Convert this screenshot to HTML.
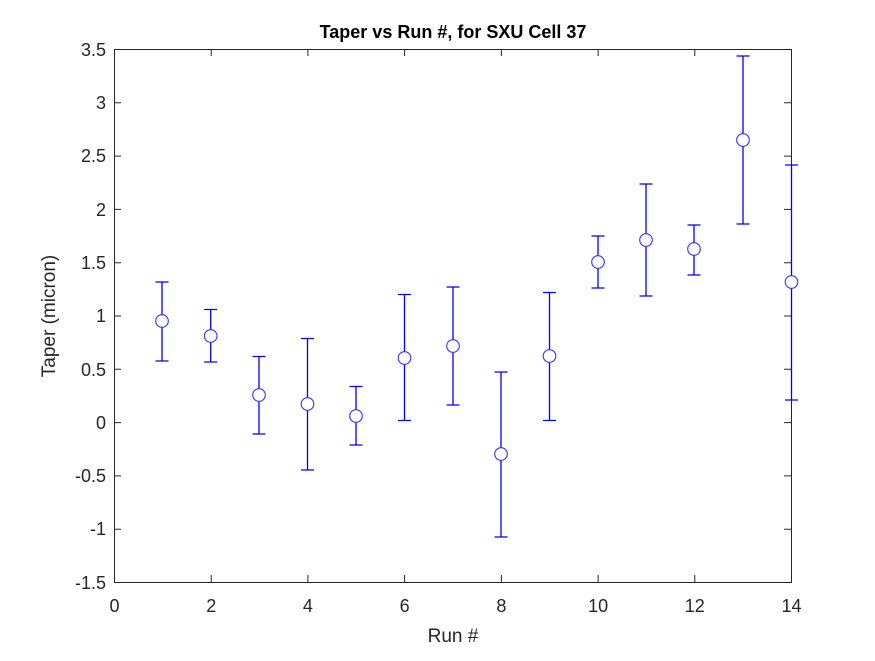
<!DOCTYPE html><html><head><style>body{margin:0;background:#fff}</style></head><body>
<svg width="875" height="656" xmlns="http://www.w3.org/2000/svg" font-family="Liberation Sans, sans-serif">
<rect width="875" height="656" fill="#fff"/>
<g stroke="#262626" stroke-width="1" fill="none">
<rect x="114.5" y="49.5" width="677" height="533"/>
<path d="M114.5 582v-7M211.2 582v-7M307.9 582v-7M404.6 582v-7M501.4 582v-7M598.1 582v-7M694.8 582v-7
M114.5 49v7M211.2 49v7M307.9 49v7M404.6 49v7M501.4 49v7M598.1 49v7M694.8 49v7
M114 49.5h7M114 102.8h7M114 156.1h7M114 209.4h7M114 262.7h7M114 316h7M114 369.3h7M114 422.6h7M114 475.9h7M114 529.2h7
M791 49.5h-7M791 102.8h-7M791 156.1h-7M791 209.4h-7M791 262.7h-7M791 316h-7M791 369.3h-7M791 422.6h-7M791 475.9h-7M791 529.2h-7"/>
</g>
<g font-size="18" fill="#262626" text-anchor="end">
<text x="106" y="56">3.5</text><text x="106" y="109">3</text><text x="106" y="162">2.5</text><text x="106" y="216">2</text><text x="106" y="269">1.5</text><text x="106" y="322">1</text><text x="106" y="376">0.5</text><text x="106" y="429">0</text><text x="106" y="482">-0.5</text><text x="106" y="535">-1</text><text x="106" y="589">-1.5</text>
</g>
<g font-size="18" fill="#262626" text-anchor="middle">
<text x="114.5" y="612">0</text><text x="211.2" y="612">2</text><text x="307.9" y="612">4</text><text x="404.6" y="612">6</text><text x="501.4" y="612">8</text><text x="598.1" y="612">10</text><text x="694.8" y="612">12</text><text x="791.5" y="612">14</text>
<text x="453" y="642" font-size="19">Run #</text>
<text x="453" y="38" font-size="18" font-weight="bold" fill="#000">Taper vs Run #, for SXU Cell 37</text>
<text transform="translate(55 316) rotate(-90)" font-size="19">Taper (micron)</text>
</g>
<g stroke="#0000ff" stroke-width="1.3" fill="none">
<path d="M162 282V361M155.5 282h13M155.5 361h13"/>
<path d="M210.7 309.5V362M204.2 309.5h13M204.2 362h13"/>
<path d="M259 356.5V434M252.5 356.5h13M252.5 434h13"/>
<path d="M307.5 338.5V470M301 338.5h13M301 470h13"/>
<path d="M356 386.5V445M349.5 386.5h13M349.5 445h13"/>
<path d="M404.5 294.5V420.5M398 294.5h13M398 420.5h13"/>
<path d="M453 287V405M446.5 287h13M446.5 405h13"/>
<path d="M501 372V537M494.5 372h13M494.5 537h13"/>
<path d="M549.5 292.5V420.5M543 292.5h13M543 420.5h13"/>
<path d="M598 236V288M591.5 236h13M591.5 288h13"/>
<path d="M646 184V296M639.5 184h13M639.5 296h13"/>
<path d="M694 225V275M687.5 225h13M687.5 275h13"/>
<path d="M743 56V224M736.5 56h13M736.5 224h13"/>
<path d="M791.5 165V400M785 165h13M785 400h13"/>
</g>
<g stroke="#3333ff" stroke-width="1.1" fill="#fff">
<circle cx="162" cy="321" r="6.3"/><circle cx="210.7" cy="336" r="6.3"/><circle cx="259" cy="395" r="6.3"/><circle cx="307.5" cy="404" r="6.3"/><circle cx="356" cy="416" r="6.3"/><circle cx="404.5" cy="358" r="6.3"/><circle cx="453" cy="346" r="6.3"/><circle cx="501" cy="454" r="6.3"/><circle cx="549.5" cy="356" r="6.3"/><circle cx="598" cy="262" r="6.3"/><circle cx="646" cy="240" r="6.3"/><circle cx="694" cy="249" r="6.3"/><circle cx="743" cy="140" r="6.3"/><circle cx="791.5" cy="282" r="6.3"/>
</g>
</svg>
</body></html>
